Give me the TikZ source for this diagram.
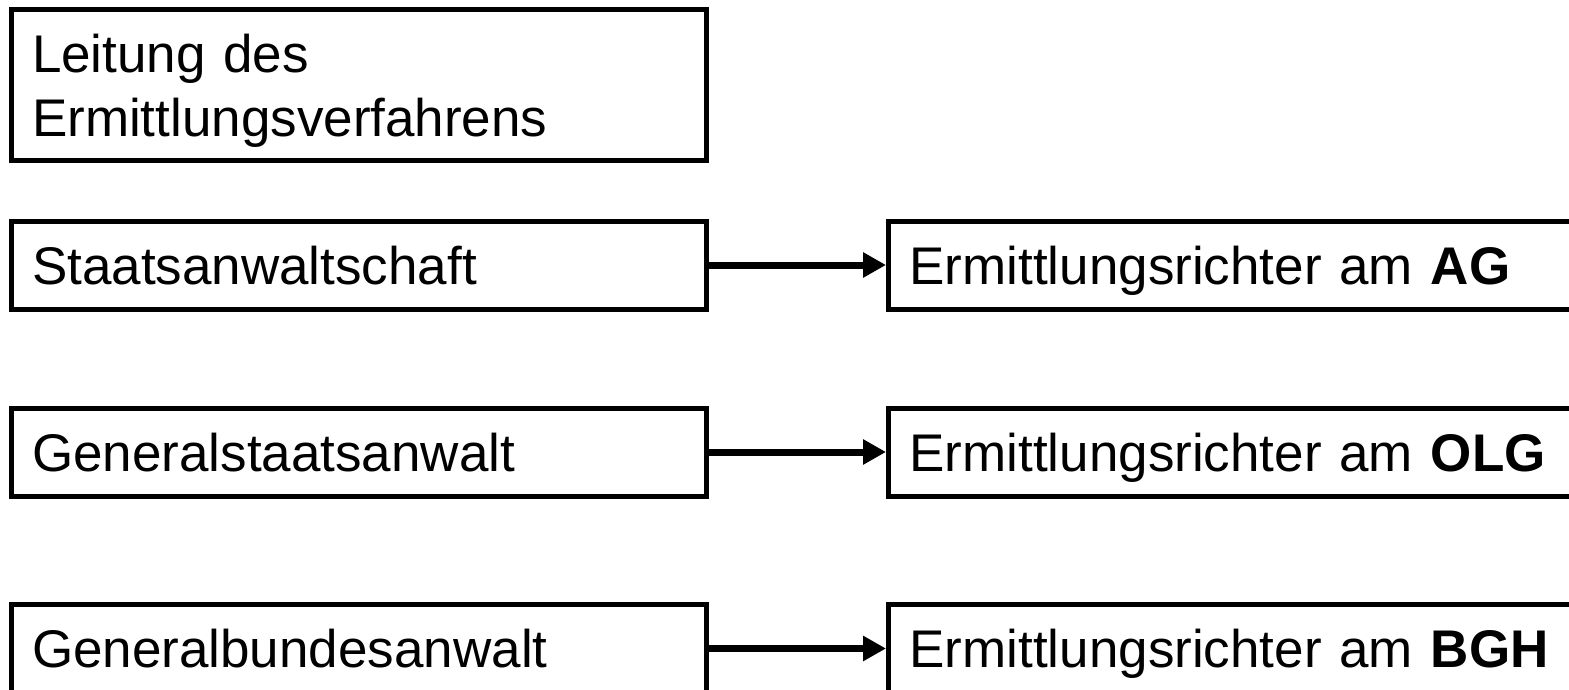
\documentclass[tikz,border=0pt]{standalone}
\usepackage{fontspec}
\setmainfont{Liberation Sans}
\usetikzlibrary{arrows.meta}
\tikzset{
  box/.style={draw=black, line width=5pt, fill=white, inner xsep=21pt, inner ysep=0pt,
    align=left, anchor=center, text height=38pt, text depth=0pt,
    font=\fontsize{53}{64}\selectfont},
  leftbox/.style={box, minimum width=695.5pt, text width=653.5pt, minimum height=88pt},
  rightbox/.style={box, minimum width=720pt, text width=678pt, minimum height=88pt},
  flow/.style={line width=7pt, -{Triangle[length=23pt,width=24pt]}}
}
\begin{document}
\begin{tikzpicture}[x=1pt,y=-1pt]
  \useasboundingbox (0,0) rectangle (1569,690);
  % heading box (two lines)
  \node[leftbox, minimum height=151pt, text height=38pt, text depth=63.6pt] (lead) at (358.75,85.5)
    {Leitung des\\Ermittlungsverfahrens};
  % prosecution offices
  \node[leftbox] (sta)  at (358.75,265)   {Staatsanwaltschaft};
  \node[leftbox] (gsta) at (358.75,452)   {Generalstaatsanwalt};
  \node[leftbox] (gba)  at (358.75,648.5) {Generalbundesanwalt};
  % investigating judges
  \node[rightbox] (ag)  at (1248.5,265)   {Ermittlungsrichter am \textbf{AG}};
  \node[rightbox] (olg) at (1248.5,452)   {Ermittlungsrichter am \textbf{OLG}};
  \node[rightbox] (bgh) at (1248.5,648.5) {Ermittlungsrichter am \textbf{BGH}};
  % connectors
  \draw[flow] (sta.east)  -- (ag.west);
  \draw[flow] (gsta.east) -- (olg.west);
  \draw[flow] (gba.east)  -- (bgh.west);
\end{tikzpicture}
\end{document}
